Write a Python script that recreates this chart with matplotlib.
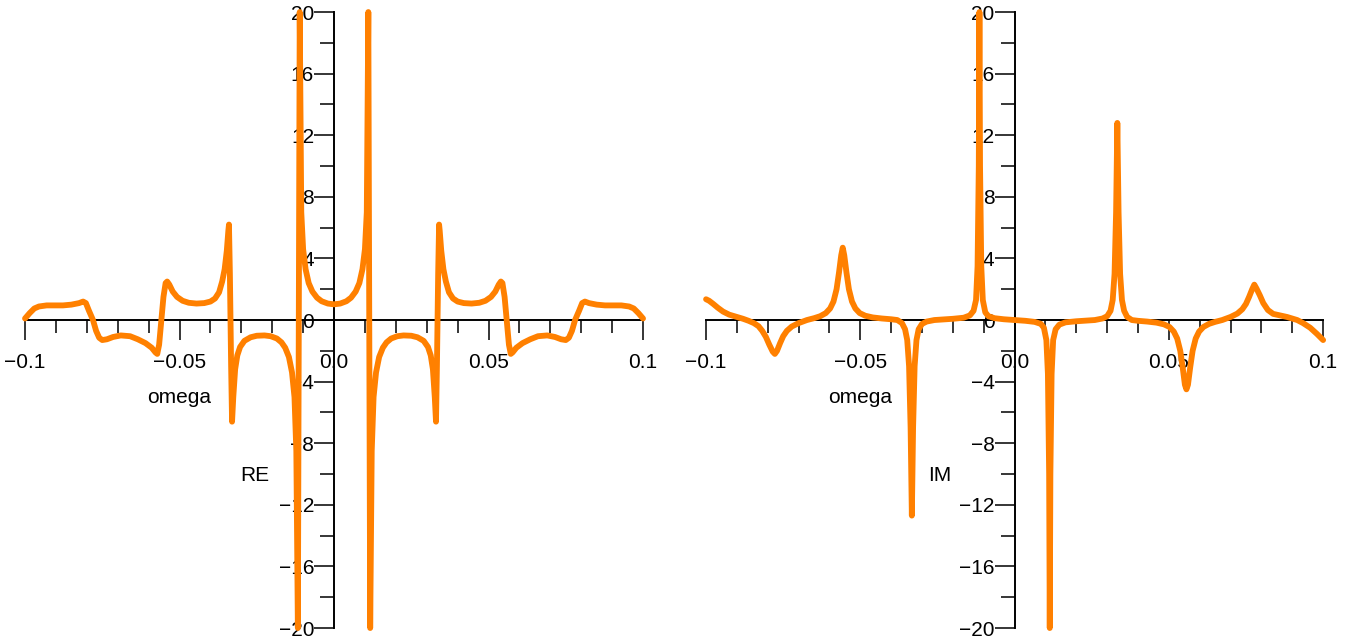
import numpy as np
import matplotlib.pyplot as plt

plt.rcParams['font.family'] = ['Liberation Sans', 'DejaVu Sans']

omega_re = [-0.1000, -0.0985, -0.0970, -0.0955, -0.0930, -0.0900, -0.0877, -0.0850,
            -0.0825, -0.0812, -0.0803, -0.0793, -0.0780, -0.0770, -0.0760, -0.0750,
            -0.0735, -0.0715, -0.0690, -0.0660, -0.0635, -0.0610, -0.0590, -0.0578,
            -0.0572, -0.0566, -0.0560, -0.0552, -0.0545, -0.0540, -0.0533, -0.0522,
            -0.0508, -0.0490, -0.0470, -0.0445, -0.0420, -0.0400, -0.0385, -0.0372,
            -0.0362, -0.0354, -0.0347, -0.0342, -0.0340, -0.0337, -0.0333, -0.0330,
            -0.0326, -0.0320, -0.0313, -0.0304, -0.0290, -0.0270, -0.0250, -0.0225,
            -0.0205, -0.0185, -0.0170, -0.0158, -0.0146, -0.0136, -0.0128, -0.0122,
            -0.0117, -0.0111, -0.0106, -0.0100, -0.0092, -0.0082, -0.0070, -0.0055,
            -0.0040, -0.0020, 0.0000,
            0.0020, 0.0040, 0.0055, 0.0070, 0.0082, 0.0092, 0.0100, 0.0106,
            0.0111, 0.0117, 0.0122, 0.0128, 0.0136, 0.0146, 0.0158, 0.0170,
            0.0185, 0.0205, 0.0225, 0.0250, 0.0270, 0.0290, 0.0304, 0.0313,
            0.0320, 0.0326, 0.0330, 0.0333, 0.0337, 0.0340, 0.0342, 0.0347,
            0.0354, 0.0362, 0.0372, 0.0385, 0.0400, 0.0420, 0.0445, 0.0470,
            0.0490, 0.0508, 0.0522, 0.0533, 0.0540, 0.0545, 0.0552, 0.0560,
            0.0566, 0.0572, 0.0578, 0.0590, 0.0610, 0.0635, 0.0660, 0.0690,
            0.0715, 0.0735, 0.0750, 0.0760, 0.0770, 0.0780, 0.0793, 0.0803,
            0.0812, 0.0825, 0.0850, 0.0877, 0.0900, 0.0930, 0.0955, 0.0970,
            0.0985, 0.1000]
re_vals = [0.1, 0.45, 0.75, 0.88, 0.95, 0.95, 0.95, 1.0,
           1.1, 1.2, 1.1, 0.6, 0.0, -0.7, -1.15, -1.3,
           -1.25, -1.1, -1.0, -1.05, -1.25, -1.5, -1.8, -2.1,
           -2.2, -1.6, -0.3, 1.5, 2.4, 2.5, 2.3, 1.85,
           1.5, 1.25, 1.12, 1.07, 1.1, 1.2, 1.4, 1.8,
           2.5, 3.3, 4.5, 5.8, 6.2, 3.0, -3.0, -6.6,
           -5.0, -3.2, -2.3, -1.75, -1.35, -1.12, -1.02, -1.0,
           -1.05, -1.2, -1.45, -1.8, -2.4, -3.4, -5.0, -8.5,
           -20.0, 20.0, 7.0, 4.6, 3.3, 2.4, 1.85, 1.45,
           1.22, 1.07, 1.02,
           1.07, 1.22, 1.45, 1.85, 2.4, 3.3, 4.6, 7.0,
           20.0, -20.0, -8.5, -5.0, -3.4, -2.4, -1.8, -1.45,
           -1.2, -1.05, -1.0, -1.02, -1.12, -1.35, -1.75, -2.3,
           -3.2, -5.0, -6.6, -3.0, 3.0, 6.2, 5.8, 4.5,
           3.3, 2.5, 1.8, 1.4, 1.2, 1.1, 1.07, 1.12,
           1.25, 1.5, 1.85, 2.3, 2.5, 2.4, 1.5, -0.3,
           -1.6, -2.2, -2.1, -1.8, -1.5, -1.25, -1.05, -1.0,
           -1.1, -1.25, -1.3, -1.15, -0.7, 0.0, 0.6, 1.1,
           1.2, 1.1, 1.0, 0.95, 0.95, 0.95, 0.88, 0.75,
           0.45, 0.1]

# Imaginary part
omega_im = [-0.1000, -0.0990, -0.0977, -0.0962, -0.0945, -0.0925, -0.0900, -0.0880,
            -0.0862, -0.0845, -0.0830, -0.0818, -0.0806, -0.0795, -0.0784, -0.0777,
            -0.0770, -0.0760, -0.0750, -0.0738, -0.0722, -0.0700, -0.0673, -0.0650,
            -0.0630, -0.0612, -0.0598, -0.0587, -0.0577, -0.0569, -0.0562, -0.0557,
            -0.0552, -0.0545, -0.0537, -0.0527, -0.0516, -0.0502, -0.0484, -0.0460,
            -0.0430, -0.0400, -0.0380, -0.0365, -0.0355, -0.0348, -0.0342, -0.0337,
            -0.0333, -0.0329, -0.0324, -0.0318, -0.0311, -0.0300, -0.0285, -0.0260,
            -0.0200, -0.0165, -0.0145, -0.0133, -0.0125, -0.0120, -0.0116, -0.0114,
            -0.0112, -0.0108, -0.0103, -0.0095, -0.0085, -0.0065, -0.0035, 0.0000,
            0.0035, 0.0065, 0.0085, 0.0095, 0.0103, 0.0108, 0.0112, 0.0114,
            0.0116, 0.0120, 0.0125, 0.0133, 0.0145, 0.0165, 0.0200, 0.0260,
            0.0285, 0.0300, 0.0311, 0.0318, 0.0324, 0.0329, 0.0333, 0.0337,
            0.0342, 0.0348, 0.0355, 0.0365, 0.0380, 0.0400, 0.0430, 0.0460,
            0.0484, 0.0502, 0.0516, 0.0527, 0.0537, 0.0545, 0.0552, 0.0557,
            0.0562, 0.0569, 0.0577, 0.0587, 0.0598, 0.0612, 0.0630, 0.0650,
            0.0673, 0.0700, 0.0722, 0.0738, 0.0750, 0.0760, 0.0770, 0.0777,
            0.0784, 0.0795, 0.0806, 0.0821, 0.0838, 0.0860, 0.0883, 0.0900,
            0.0916, 0.0935, 0.0958, 0.0980, 0.1000]
im_vals = [1.35, 1.25, 1.05, 0.8, 0.55, 0.35, 0.2, 0.08,
           -0.05, -0.2, -0.4, -0.7, -1.1, -1.6, -2.05, -2.2,
           -2.0, -1.5, -1.05, -0.7, -0.42, -0.2, 0.0, 0.12,
           0.25, 0.45, 0.75, 1.2, 2.0, 3.1, 4.2, 4.7,
           4.2, 3.1, 2.0, 1.2, 0.75, 0.45, 0.28, 0.17,
           0.1, 0.05, 0.0, -0.2, -0.6, -1.3, -3.0, -7.0,
           -12.7, -7.0, -3.0, -1.3, -0.6, -0.25, -0.1, 0.0,
           0.08, 0.15, 0.3, 0.6, 1.3, 3.5, 10.0, 20.0,
           10.0, 3.5, 1.3, 0.5, 0.25, 0.12, 0.05, 0.0,
           -0.05, -0.12, -0.25, -0.5, -1.3, -3.5, -10.0, -20.0,
           -10.0, -3.5, -1.3, -0.6, -0.3, -0.15, -0.08, 0.0,
           0.1, 0.25, 0.6, 1.3, 3.0, 7.0, 12.8, 7.0,
           3.0, 1.3, 0.6, 0.2, 0.0, -0.05, -0.1, -0.17,
           -0.28, -0.45, -0.75, -1.2, -2.0, -3.1, -4.2, -4.5,
           -4.2, -3.1, -2.0, -1.2, -0.75, -0.45, -0.25, -0.12,
           0.0, 0.2, 0.42, 0.7, 1.05, 1.5, 2.0, 2.3,
           2.05, 1.6, 1.1, 0.65, 0.4, 0.3, 0.2, 0.1,
           0.0, -0.2, -0.5, -0.9, -1.3]

x_major = [-0.1, -0.05, 0.0, 0.05, 0.1]
x_labels = ['\u22120.1', '\u22120.05', '0.0', '0.05', '0.1']
y_major = list(range(-20, 21, 4))
y_labels = [str(v).replace('-', '\u2212') for v in y_major]

orange = '#ff8000'

fig = plt.figure(figsize=(13.67, 6.44), dpi=100)
ax1 = fig.add_axes([0.0183, 0.0248, 0.4521, 0.9565])
ax2 = fig.add_axes([0.5165, 0.0248, 0.4514, 0.9565])

for ax, om, vals in [(ax1, omega_re, re_vals), (ax2, omega_im, im_vals)]:
    ax.plot(om, vals, color=orange, linewidth=4.2, solid_joinstyle='round',
            solid_capstyle='round', clip_on=False, zorder=3)
    ax.set_xlim(-0.1, 0.1)
    ax.set_ylim(-20, 20)
    ax.patch.set_visible(False)
    for s in ['top', 'right']:
        ax.spines[s].set_visible(False)
    ax.spines['left'].set_position(('data', 0))
    ax.spines['bottom'].set_position(('data', 0))
    for s in ['left', 'bottom']:
        ax.spines[s].set_linewidth(1.4)
    ax.set_xticks(x_major)
    ax.set_xticklabels(x_labels)
    ax.set_xticks([v / 100 for v in range(-10, 11) if v % 5 != 0], minor=True)
    ax.set_yticks(y_major)
    ax.set_yticklabels(y_labels)
    ax.set_yticks([v for v in range(-18, 19, 4)], minor=True)
    ax.tick_params(axis='x', which='major', direction='out', length=14.4, width=1.1,
                   pad=9, labelsize=15)
    ax.tick_params(axis='x', which='minor', direction='out', length=9.4, width=1.1)
    ax.tick_params(axis='y', which='major', direction='out', length=14.4, width=1.1,
                   pad=0, labelsize=15)
    ax.tick_params(axis='y', which='minor', direction='out', length=10, width=1.1)
    ax.text(-0.0502, -5.0, 'omega', fontsize=15, ha='center', va='center')

ax1.text(-0.0256, -10.1, 'RE', fontsize=15, ha='center', va='center')
ax2.text(-0.0241, -10.1, 'IM', fontsize=15, ha='center', va='center')

fig.savefig('out.png', dpi=100)
